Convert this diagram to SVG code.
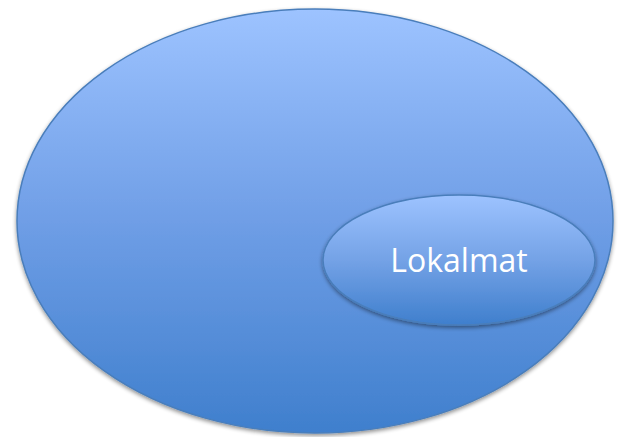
<svg xmlns="http://www.w3.org/2000/svg" width="629" height="437" viewBox="0 0 629 437">
<defs>
<linearGradient id="g1" x1="0" y1="0" x2="0" y2="1">
<stop offset="0" stop-color="#9dc3ff"/>
<stop offset="0.5" stop-color="#6f9ee6"/>
<stop offset="1" stop-color="#3f7fcd"/>
</linearGradient>
<linearGradient id="g2" x1="0" y1="0" x2="0" y2="1">
<stop offset="0" stop-color="#9dc3ff"/>
<stop offset="0.5" stop-color="#74a2e6"/>
<stop offset="1" stop-color="#3f7fcd"/>
</linearGradient>
<filter id="sh" x="-10%" y="-10%" width="120%" height="125%">
<feGaussianBlur in="SourceAlpha" stdDeviation="2"/>
<feOffset dx="0" dy="2" result="b"/>
<feComponentTransfer><feFuncA type="linear" slope="0.45"/></feComponentTransfer>
<feMerge><feMergeNode/><feMergeNode in="SourceGraphic"/></feMerge>
</filter>
</defs>
<style>
.e{stroke:#4a7ebb;stroke-width:1.5}
.t{font-family:"Open Sans","Liberation Sans",sans-serif;font-size:32px;fill:#ffffff}
</style>
<g id="outer">
<ellipse class="e" cx="315" cy="221" rx="298" ry="212" fill="url(#g1)" filter="url(#sh)"/>
</g>
<g id="lokalmat">
<ellipse class="e" cx="459" cy="260" rx="136" ry="65" fill="url(#g2)" filter="url(#sh)"/>
<text class="t" x="459" y="272" text-anchor="middle">Lokalmat</text>
</g>
<g id="connectors"/>
</svg>
